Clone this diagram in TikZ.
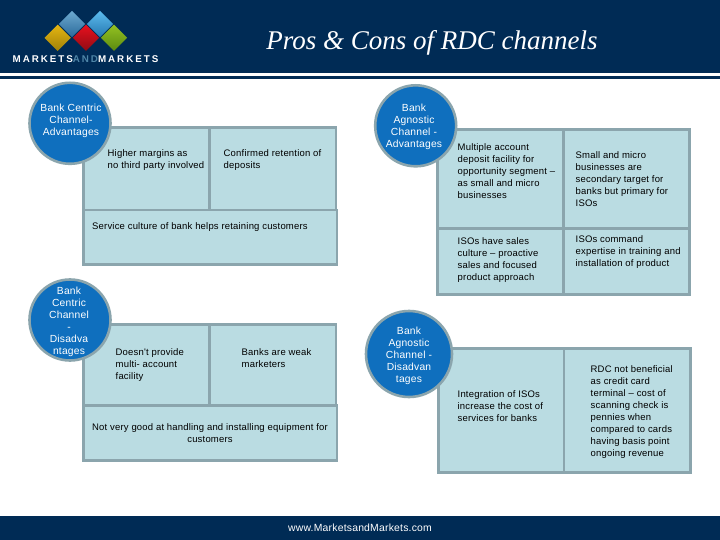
\documentclass[tikz,border=0pt]{standalone}
\usepackage{fontspec}
\setmainfont{Liberation Sans}
\newfontfamily\titlefont[ItalicFont=Liberation Serif Italic]{Liberation Serif}
\newfontfamily\bodyfont[LetterSpace=2.0]{Liberation Sans}
\newfontfamily\logofont[LetterSpace=20]{Liberation Sans Bold}
\usetikzlibrary{shapes.geometric}
\definecolor{navy}{HTML}{002B55}
\definecolor{cellfill}{HTML}{BADCE2}
\definecolor{cellline}{HTML}{8BA5AD}
\definecolor{disc}{HTML}{0F6FBE}
\definecolor{andcol}{HTML}{4F86A8}
\definecolor{gemAt}{HTML}{6DA9D0}
\definecolor{gemAb}{HTML}{2A6A9A}
\definecolor{gemBt}{HTML}{5CBBEE}
\definecolor{gemBb}{HTML}{2578B0}
\definecolor{gemCt}{HTML}{E5B512}
\definecolor{gemCb}{HTML}{A08208}
\definecolor{gemDt}{HTML}{E8101E}
\definecolor{gemDb}{HTML}{900C14}
\definecolor{gemEt}{HTML}{93C122}
\definecolor{gemEb}{HTML}{5C8A10}
\tikzset{
  x=1pt,y=-1pt,
  cell/.style={draw=cellline,fill=cellfill,line width=2.5pt},
  disc/.style={circle,draw=cellline,fill=disc,line width=2.6pt,inner sep=0pt},
  body/.style={inner sep=0pt,font=\bodyfont\fontsize{9.5}{12}\selectfont,text=black},
  lbl/.style={body,anchor=north west,align=left},
  ctr/.style={body,anchor=north,align=center},
  disctext/.style={inner sep=0pt,font=\bodyfont\fontsize{10.3}{12}\selectfont,anchor=north,align=center,text=white},
  gem/.style={diamond,inner sep=0pt,minimum width=26.5pt,minimum height=26.5pt},
}
\begin{document}
\begin{tikzpicture}
\useasboundingbox (0,0) rectangle (720,540);
\fill[white] (0,0) rectangle (720,540);
% header and footer
\fill[navy] (0,0) rectangle (720,73);
\fill[navy] (0,76) rectangle (720,78.7);
\fill[navy] (0,516) rectangle (720,540);
% logo
\node[gem,top color=gemAt,bottom color=gemAb] (g1) at (72,24) {};
\node[gem,top color=gemBt,bottom color=gemBb] (g2) at (100,24) {};
\node[gem,top color=gemCt,bottom color=gemCb] (g3) at (57.7,37.8) {};
\node[gem,top color=gemDt,bottom color=gemDb] (g4) at (86,37.8) {};
\node[gem,top color=gemEt,bottom color=gemEb] (g5) at (114,37.8) {};
\node[inner sep=0pt,text=white] (logotext) at (85.5,59) {\logofont\fontsize{9.8}{10}\selectfont MARKETS\textcolor{andcol}{AND}MARKETS};
\node[inner sep=0pt,text=white,anchor=base] (title) at (432,50) {\titlefont\itshape\fontsize{27}{30}\selectfont Pros \& Cons of RDC channels};
\node[inner sep=0pt,text=white] (web) at (360,528) {\bodyfont\fontsize{10.4}{12}\selectfont www.MarketsandMarkets.com};
% bank centric advantages
\draw[cell] (83.5,127.5) rectangle (209.5,210);
\draw[cell] (209.5,127.5) rectangle (336,210);
\draw[cell] (83.5,210) rectangle (337,264.5);
\node[lbl] (a1) at (107.5,147.7) {\strut Higher margins as\\\strut no third party involved};
\node[lbl] (a2) at (223.5,147.7) {\strut Confirmed retention of\\\strut deposits};
\node[lbl] (a3) at (92,220.7) {\strut Service culture of bank helps retaining customers};
\node[disc,minimum size=81pt] (c1) at (70,123.3) {};
\node[disctext] (c1t) at (71,102.7) {\strut Bank Centric\\\strut Channel-\\\strut Advantages};
% bank agnostic advantages
\draw[cell] (437.5,129.5) rectangle (563.3,228.3);
\draw[cell] (563.3,129.5) rectangle (689.5,228.3);
\draw[cell] (437.5,228.3) rectangle (563.3,294.5);
\draw[cell] (563.3,228.3) rectangle (689.5,294.5);
\node[lbl] (b1) at (457.5,141.7) {\strut Multiple account\\\strut deposit facility for\\\strut opportunity segment –\\\strut as small and micro\\\strut businesses};
\node[lbl] (b2) at (575.5,149.7) {\strut Small and micro\\\strut businesses are\\\strut secondary target for\\\strut banks but primary for\\\strut ISOs};
\node[lbl] (b3) at (457.5,235.7) {\strut ISOs have sales\\\strut culture – proactive\\\strut sales and focused\\\strut product approach};
\node[lbl] (b4) at (575.5,233.7) {\strut ISOs command\\\strut expertise in training and\\\strut installation of product};
\node[disc,minimum size=81pt] (c2) at (415.7,125.8) {};
\node[disctext] (c2t) at (414,102.7) {\strut Bank\\\strut Agnostic\\\strut Channel -\\\strut Advantages};
% bank centric disadvantages
\draw[cell] (83.5,324.5) rectangle (209.5,405.7);
\draw[cell] (209.5,324.5) rectangle (336,405.7);
\draw[cell] (83.5,405.7) rectangle (337,460.5);
\node[lbl] (d1) at (115.5,346.7) {\strut Doesn't provide\\\strut multi- account\\\strut facility};
\node[lbl] (d2) at (241.5,346.7) {\strut Banks are weak\\\strut marketers};
\node[ctr] (d3) at (210,422.3) {\strut Not very good at handling and installing equipment for\\\strut customers};
\node[disc,minimum size=81pt] (c3) at (70,320) {};
\node[disctext] (c3t) at (69,285.7) {\strut Bank\\\strut Centric\\\strut Channel\\\strut -\\\strut Disadva\\\strut ntages};
% bank agnostic disadvantages
\draw[cell] (438.5,348.5) rectangle (564,472.5);
\draw[cell] (564,348.5) rectangle (690.5,472.5);
\node[lbl] (e1) at (457.5,389) {\strut Integration of ISOs\\\strut increase the cost of\\\strut services for banks};
\node[lbl] (e2) at (590.5,363.7) {\strut RDC not beneficial\\\strut as credit card\\\strut terminal – cost of\\\strut scanning check is\\\strut pennies when\\\strut compared to cards\\\strut having basis point\\\strut ongoing revenue};
\node[disc,minimum size=86pt] (c4) at (409,354) {};
\node[disctext] (c4t) at (409,325.7) {\strut Bank\\\strut Agnostic\\\strut Channel -\\\strut Disadvan\\\strut tages};
\end{tikzpicture}
\end{document}
